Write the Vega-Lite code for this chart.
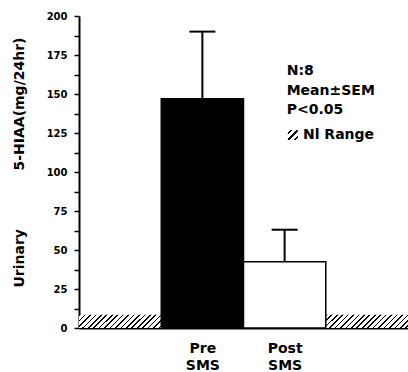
{
  "$schema": "https://vega.github.io/schema/vega-lite/v6.json",
  "width": 329,
  "height": 312,
  "autosize": {"type": "none"},
  "padding": {"left": 79, "top": 16, "right": 0, "bottom": 44},
  "background": "white",
  "config": {
    "view": {"stroke": null},
    "axisY": {
      "grid": false, "ticks": true, "tickColor": "black", "tickWidth": 1.5, "tickSize": 5, "tickOpacity": 1,
      "domainColor": "black", "domainWidth": 2, "labelOverlap": false, "labelBound": false,
      "labelFont": "DejaVu Sans", "labelFontWeight": "bold", "labelFontSize": 10, "labelColor": "black", "labelPadding": 7,
      "titleFont": "DejaVu Sans", "titleFontWeight": "bold", "titleFontSize": 14, "titleColor": "black"
    },
    "axisX": {
      "grid": false, "ticks": false, "tickSize": 0, "domainColor": "black", "domainWidth": 2,
      "labelFont": "DejaVu Sans", "labelFontWeight": "bold", "labelFontSize": 14, "labelLineHeight": 17,
      "labelColor": "black", "labelPadding": 13, "labelFlush": false
    }
  },
  "datasets": {
    "bars": [
      {"group": "Pre", "x0": 1, "x1": 2, "xc": 1.5, "base": 0, "mean": 147, "upper": 190},
      {"group": "Post", "x0": 2, "x1": 3, "xc": 2.5, "base": 0, "mean": 42.5, "upper": 63}
    ],
    "normal": [
      {"x0": 0, "x1": 1, "lo": 0, "hi": 8.5},
      {"x0": 3, "x1": 4, "lo": 0, "hi": 8.5}
    ],
    "notes": [
      {"t": "N:8", "x": 2.525, "y": 164.7},
      {"t": "Mean±SEM", "x": 2.525, "y": 151.9},
      {"t": "P<0.05", "x": 2.525, "y": 139.5},
      {"t": "Nl Range", "x": 2.723, "y": 123.7}
    ],
    "key": [{"x": 2.6, "y": 123.7}]
  },
  "encoding": {
    "y": {"type": "quantitative", "scale": {"domain": [0, 200], "nice": false},
      "axis": {"values": [0, 12.5, 25, 37.5, 50, 62.5, 75, 87.5, 100, 112.5, 125, 137.5, 150, 162.5, 175, 187.5, 200],
        "labelExpr": "datum.value % 25 == 0 ? datum.label : ''",
        "title": "Urinary\u00a0\u00a0\u00a0\u00a0\u00a0\u00a0\u00a0\u00a0\u00a0\u00a0\u00a0\u00a05-HIAA(mg/24hr)",
        "titleAngle": -90, "titleX": -60, "titleY": 146, "titleAlign": "center", "titleBaseline": "middle"}},
    "x": {"type": "quantitative", "scale": {"domain": [0, 4], "nice": false, "zero": false},
      "axis": {"values": [1.5, 2.5], "title": null,
        "labelExpr": "datum.value == 1.5 ? ['Pre', 'SMS'] : ['Post', 'SMS']"}}
  },
  "layer": [
    {
      "data": {"name": "normal"},
      "mark": {
        "type": "rect",
        "fill": {
          "gradient": "linear", "x1": 0, "y1": 0, "x2": 1.16, "y2": 0.188,
          "stops": [
            {"offset": 0, "color": "black"}, {"offset": 0.017, "color": "black"}, {"offset": 0.017, "color": "white"},
            {"offset": 0.0556, "color": "white"}, {"offset": 0.0556, "color": "black"}, {"offset": 0.0726, "color": "black"}, {"offset": 0.0726, "color": "white"},
            {"offset": 0.1111, "color": "white"}, {"offset": 0.1111, "color": "black"}, {"offset": 0.1281, "color": "black"}, {"offset": 0.1281, "color": "white"},
            {"offset": 0.1667, "color": "white"}, {"offset": 0.1667, "color": "black"}, {"offset": 0.1837, "color": "black"}, {"offset": 0.1837, "color": "white"},
            {"offset": 0.2222, "color": "white"}, {"offset": 0.2222, "color": "black"}, {"offset": 0.2392, "color": "black"}, {"offset": 0.2392, "color": "white"},
            {"offset": 0.2778, "color": "white"}, {"offset": 0.2778, "color": "black"}, {"offset": 0.2948, "color": "black"}, {"offset": 0.2948, "color": "white"},
            {"offset": 0.3333, "color": "white"}, {"offset": 0.3333, "color": "black"}, {"offset": 0.3503, "color": "black"}, {"offset": 0.3503, "color": "white"},
            {"offset": 0.3889, "color": "white"}, {"offset": 0.3889, "color": "black"}, {"offset": 0.4059, "color": "black"}, {"offset": 0.4059, "color": "white"},
            {"offset": 0.4444, "color": "white"}, {"offset": 0.4444, "color": "black"}, {"offset": 0.4614, "color": "black"}, {"offset": 0.4614, "color": "white"},
            {"offset": 0.5, "color": "white"}, {"offset": 0.5, "color": "black"}, {"offset": 0.517, "color": "black"}, {"offset": 0.517, "color": "white"},
            {"offset": 0.5556, "color": "white"}, {"offset": 0.5556, "color": "black"}, {"offset": 0.5726, "color": "black"}, {"offset": 0.5726, "color": "white"},
            {"offset": 0.6111, "color": "white"}, {"offset": 0.6111, "color": "black"}, {"offset": 0.6281, "color": "black"}, {"offset": 0.6281, "color": "white"},
            {"offset": 0.6667, "color": "white"}, {"offset": 0.6667, "color": "black"}, {"offset": 0.6837, "color": "black"}, {"offset": 0.6837, "color": "white"},
            {"offset": 0.7222, "color": "white"}, {"offset": 0.7222, "color": "black"}, {"offset": 0.7392, "color": "black"}, {"offset": 0.7392, "color": "white"},
            {"offset": 0.7778, "color": "white"}, {"offset": 0.7778, "color": "black"}, {"offset": 0.7948, "color": "black"}, {"offset": 0.7948, "color": "white"},
            {"offset": 0.8333, "color": "white"}, {"offset": 0.8333, "color": "black"}, {"offset": 0.8503, "color": "black"}, {"offset": 0.8503, "color": "white"},
            {"offset": 0.8889, "color": "white"}, {"offset": 0.8889, "color": "black"}, {"offset": 0.9059, "color": "black"}, {"offset": 0.9059, "color": "white"},
            {"offset": 0.9444, "color": "white"}, {"offset": 0.9444, "color": "black"}, {"offset": 0.9614, "color": "black"}, {"offset": 0.9614, "color": "white"},
            {"offset": 1, "color": "white"}
          ]
        }
      },
      "encoding": {
        "x": {"field": "x0"},
        "x2": {"field": "x1"},
        "y": {"field": "lo"},
        "y2": {"field": "hi"}
      }
    },
    {
      "data": {"name": "bars"},
      "mark": {"type": "rect", "stroke": "black", "strokeWidth": 1.5},
      "encoding": {
        "x": {"field": "x0"},
        "x2": {"field": "x1"},
        "y": {"field": "base"},
        "y2": {"field": "mean"},
        "fill": {"field": "group", "type": "nominal", "scale": {"domain": ["Pre", "Post"], "range": ["black", "white"]}, "legend": null}
      }
    },
    {
      "data": {"name": "bars"},
      "mark": {"type": "rule", "color": "black", "strokeWidth": 2},
      "encoding": {
        "x": {"field": "xc"},
        "y": {"field": "mean"},
        "y2": {"field": "upper"}
      }
    },
    {
      "data": {"name": "bars"},
      "mark": {"type": "tick", "orient": "horizontal", "color": "black", "size": 26, "thickness": 2, "opacity": 1},
      "encoding": {
        "x": {"field": "xc"},
        "y": {"field": "upper"}
      }
    },
    {
      "data": {"name": "notes"},
      "mark": {"type": "text", "align": "left", "baseline": "middle", "font": "DejaVu Sans", "fontWeight": "bold", "fontSize": 14, "color": "black"},
      "encoding": {
        "x": {"field": "x"},
        "y": {"field": "y"},
        "text": {"field": "t"}
      }
    },
    {
      "data": {"name": "key"},
      "mark": {
        "type": "square", "size": 100, "filled": true, "opacity": 1, "strokeWidth": 0,
        "fill": {
          "gradient": "linear", "x1": 0, "y1": 0, "x2": 1, "y2": 1,
          "stops": [
            {"offset": 0, "color": "white"}, {"offset": 0.12, "color": "white"}, {"offset": 0.12, "color": "black"}, {"offset": 0.24, "color": "black"}, {"offset": 0.24, "color": "white"},
            {"offset": 0.44, "color": "white"}, {"offset": 0.44, "color": "black"}, {"offset": 0.56, "color": "black"}, {"offset": 0.56, "color": "white"},
            {"offset": 0.76, "color": "white"}, {"offset": 0.76, "color": "black"}, {"offset": 0.88, "color": "black"}, {"offset": 0.88, "color": "white"},
            {"offset": 1, "color": "white"}
          ]
        }
      },
      "encoding": {
        "x": {"field": "x"},
        "y": {"field": "y"}
      }
    }
  ]
}
